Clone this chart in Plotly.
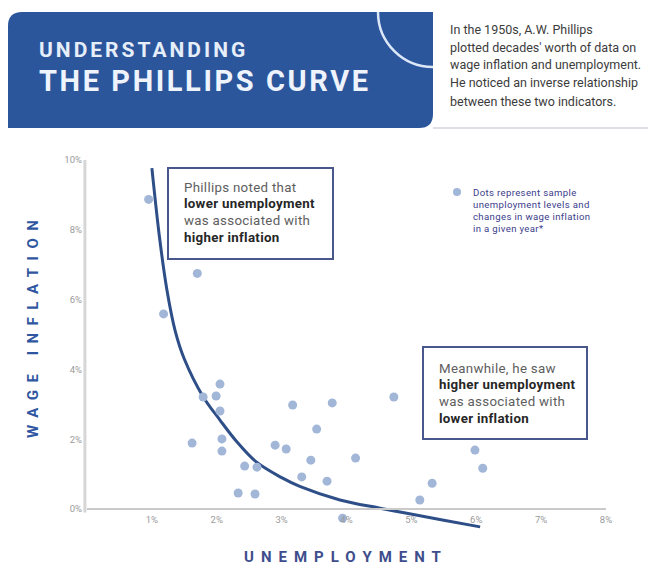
import plotly.graph_objects as go

# Sample observations: unemployment rate (%) vs. change in wage inflation (%)
unemployment = [0.95, 1.70, 1.18, 1.79, 2.05, 1.99, 2.05, 1.62, 2.08, 2.08,
                2.43, 2.62, 2.33, 2.59, 2.90, 3.07, 3.17, 3.31, 3.45, 3.54,
                3.70, 3.78, 4.14, 4.73, 5.13, 5.32, 5.98, 6.10, 3.94]
wage_inflation = [8.87, 6.75, 5.59, 3.21, 3.58, 3.24, 2.81, 1.89, 2.01, 1.66,
                  1.23, 1.20, 0.46, 0.43, 1.83, 1.72, 2.98, 0.92, 1.40, 2.29,
                  0.80, 3.04, 1.46, 3.21, 0.26, 0.74, 1.69, 1.17, -0.26]

# Phillips curve traced through the cloud
curve_x = [1.00, 1.12, 1.23, 1.36, 1.50, 1.79, 2.05, 2.30, 2.61, 3.00,
           3.28, 3.90, 4.50, 4.93, 5.50, 6.06]
curve_y = [9.77, 7.75, 6.30, 5.10, 4.30, 3.22, 2.55, 1.95, 1.35, 0.90,
           0.65, 0.26, 0.03, -0.12, -0.32, -0.51]

x_ticks = [1, 2, 3, 4, 5, 6, 7, 8]
x_labels = ["1%", "2%", "3%", "4%", "5%", "6%", "7%", "8%"]
y_ticks = [0, 2, 4, 6, 8, 10]
y_labels = ["0%", "2%", "4%", "6%", "8%", "10%"]

header_lines = [
    "In the 1950s, A.W. Phillips",
    "plotted decades' worth of data on",
    "wage inflation and unemployment.",
    "He noticed an inverse relationship",
    "between these two indicators.",
]
note_left = [("Phillips noted that", False), ("lower unemployment", True),
             ("was associated with", False), ("higher inflation", True)]
note_right = [("Meanwhile, he saw", False), ("higher unemployment", True),
              ("was associated with", False), ("lower inflation", True)]
legend_lines = ["Dots represent sample", "unemployment levels and",
                "changes in wage inflation", "in a given year*"]

W, H = 648, 568
L, R, T, B = 87, 606, 160, 530  # plot area edges in pixels
Y_MIN = -0.6


def px(x):
    return (x - L) / (R - L)


def py(y):
    return (B - y) / (B - T)


BLUE = "#2B569C"
NAVY = "#2E4E88"
DOT = "#A2B6D8"

fig = go.Figure()

fig.add_trace(go.Scatter(
    x=curve_x, y=curve_y, mode="lines",
    line=dict(color=NAVY, width=3, shape="spline"),
    hoverinfo="skip", showlegend=False,
))
fig.add_trace(go.Scatter(
    x=unemployment, y=wage_inflation, mode="markers",
    marker=dict(color=DOT, size=9), cliponaxis=False, showlegend=False,
))

shapes = []
# header banner with rounded top-left / bottom-right corners
x0, x1, y0, y1, r = 8, 433, 12, 128, 14
path = (f"M {px(x0)},{py(y0 + r)} Q {px(x0)},{py(y0)} {px(x0 + r)},{py(y0)} "
        f"L {px(x1)},{py(y0)} L {px(x1)},{py(y1 - r)} "
        f"Q {px(x1)},{py(y1)} {px(x1 - r)},{py(y1)} L {px(x0)},{py(y1)} Z")
shapes.append(dict(type="path", xref="paper", yref="paper", path=path,
                   fillcolor=BLUE, line=dict(width=0), layer="above"))
# decorative arc in the banner corner
rad = 55
k = 0.5523 * rad
arc = (f"M {px(x1 - rad)},{py(y0)} C {px(x1 - rad)},{py(y0 + k)} "
       f"{px(x1 - k)},{py(y0 + rad)} {px(x1)},{py(y0 + rad)}")
shapes.append(dict(type="path", xref="paper", yref="paper", path=arc,
                   line=dict(color="#DCE8F8", width=2.5), layer="above"))
# divider under the intro paragraph
shapes.append(dict(type="line", xref="paper", yref="paper",
                   x0=px(x1), x1=px(W), y0=py(128), y1=py(128),
                   line=dict(color="#D4D6DC", width=1.5)))
# y axis line from 0 % to 10 %
shapes.append(dict(type="line", xref="paper", yref="y", x0=-0.004, x1=-0.004,
                   y0=min(y_ticks) - 0.1, y1=max(y_ticks) + 0.05,
                   line=dict(color="#D6D6D6", width=3), layer="below"))
# note boxes
for (bx0, by0, bx1, by1) in [(168, 168, 333, 259), (423, 347, 587, 439)]:
    shapes.append(dict(type="rect", xref="paper", yref="paper",
                       x0=px(bx0), x1=px(bx1), y0=py(by1), y1=py(by0),
                       fillcolor="white", line=dict(color="#4A578C", width=2),
                       layer="above"))
# legend dot
shapes.append(dict(type="circle", xref="paper", yref="paper",
                   x0=px(453), x1=px(461), y0=py(196), y1=py(188),
                   fillcolor=DOT, line=dict(width=0)))

ann = []
ann.append(dict(text="<b><span style='letter-spacing:3px'>UNDERSTANDING</span></b>",
                x=px(37), y=py(50), xanchor="left", yanchor="middle",
                font=dict(family="Roboto", size=21, color="#E6EEFA")))
ann.append(dict(text="<b><span style='letter-spacing:2.6px'>THE PHILLIPS CURVE</span></b>",
                x=px(37), y=py(81), xanchor="left", yanchor="middle",
                font=dict(family="Roboto", size=29, color="#EEF3FC")))
for i, line in enumerate(header_lines):
    ann.append(dict(text=line, x=px(448), y=py(29 + 18 * i),
                    xanchor="left", yanchor="middle",
                    font=dict(family="Roboto", size=12.5, color="#3C3C3C")))


def note(lines, x, ytop):
    for i, (t, bold) in enumerate(lines):
        body = f"<span style='letter-spacing:0.3px'>{t}</span>"
        ann.append(dict(text=f"<b>{body}</b>" if bold else body,
                        x=px(x), y=py(ytop + 16.8 * i),
                        xanchor="left", yanchor="middle",
                        font=dict(family="Roboto", size=13.3,
                                  color="#262626" if bold else "#5E5E5E")))


note(note_left, 182, 187)
note(note_right, 437, 368)

for i, line in enumerate(legend_lines):
    ann.append(dict(text=f"<span style='letter-spacing:0.35px'>{line}</span>",
                    x=px(471), y=py(192 + 12 * i),
                    xanchor="left", yanchor="middle",
                    font=dict(family="Roboto", size=9.6, color="#3B3D8C")))

ann.append(dict(text="<b><span style='letter-spacing:7.5px'>WAGE INFLATION</span></b>",
                x=px(33), y=py(326), textangle=-90, xanchor="center",
                yanchor="middle", font=dict(family="Roboto", size=15, color="#2F56A0")))
ann.append(dict(text="<b><span style='letter-spacing:7px'>UNEMPLOYMENT</span></b>",
                x=px(346), y=py(557), xanchor="center", yanchor="middle",
                font=dict(family="Roboto", size=15, color="#3E4D8C")))

for a in ann:
    a.update(xref="paper", yref="paper", showarrow=False)

fig.update_layout(
    width=W, height=H,
    margin=dict(l=L, r=W - R, t=T, b=H - B),
    paper_bgcolor="white", plot_bgcolor="white",
    shapes=shapes, annotations=ann, showlegend=False,
    xaxis=dict(range=[0, 8], tickvals=x_ticks, ticktext=x_labels,
               showgrid=False, zeroline=False, showline=True,
               linecolor="#CACACA", linewidth=2, ticks="",
               anchor="free", position=(0 - Y_MIN) / (10 - Y_MIN),
               ticklabelstandoff=2,
               tickfont=dict(family="Roboto", size=9.5, color="#9A9A9A")),
    yaxis=dict(range=[Y_MIN, 10], tickvals=y_ticks, ticktext=y_labels,
               showgrid=False, zeroline=False, showline=False, ticks="",
               ticklabelstandoff=4,
               tickfont=dict(family="Roboto", size=9.5, color="#9A9A9A")),
)

fig.write_html("out.html")
